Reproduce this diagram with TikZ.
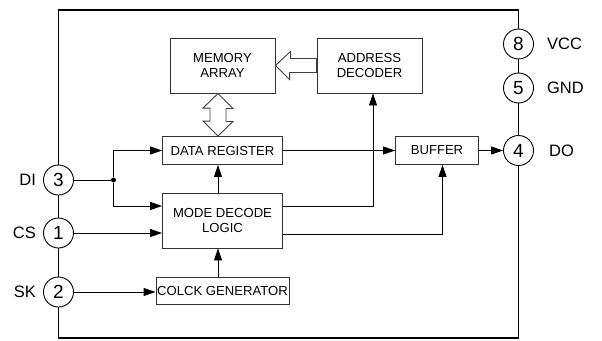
\documentclass[tikz,border=0pt]{standalone}
\usepackage{fontspec}
\setmainfont{Liberation Sans}
\usetikzlibrary{arrows.meta,positioning}

\begin{document}
\begin{tikzpicture}[x=1pt,y=-1pt,>={Triangle[length=12pt,width=8pt]},
  block/.style={draw=black!80,line width=0.9pt,inner sep=0pt,align=center,
    font=\fontsize{13.1}{15.5}\selectfont},
  pin/.style={circle,draw,fill=white,line width=0.9pt,minimum size=30pt,
    inner sep=0pt,font=\fontsize{19}{19}\selectfont},
  pinname/.style={inner sep=0pt,font=\fontsize{16.5}{16.5}\selectfont},
  line/.style={line width=0.9pt},
  frame/.style={line width=1.8pt},
  hollow/.style={draw=black!75,fill=white,line width=0.9pt,line join=miter}]
  \useasboundingbox[fill=white] (0,0) rectangle (602,340);

  % package outline
  \draw[frame] (58.5,10) rectangle (518.5,338);

  \node[block,minimum width=105pt,minimum height=55pt] (mem) at (222.5,65.5) {MEMORY\\ARRAY};
  \node[block,minimum width=105pt,minimum height=55pt] (addr) [right of=mem,node distance=147pt] {ADDRESS\\DECODER};
  \node[block,minimum width=120pt,minimum height=28pt] (datareg) [below of=mem,node distance=85pt] {DATA REGISTER};
  \node[block,minimum width=120pt,minimum height=55pt] (mode) [below of=datareg,node distance=70pt] {MODE DECODE\\LOGIC};
  \node[block,minimum width=133pt,minimum height=27pt] (clk) [below of=mode,node distance=70pt] {COLCK GENERATOR};
  \node[block,minimum width=83pt,minimum height=28pt] (buffer) [right of=datareg,node distance=214.5pt] {BUFFER};

  % pins
  \node[pin] (p3) at (58.5,180) {3};
  \node[pin] (p1) at (58.5,233) {1};
  \node[pin] (p2) at (58.5,292) {2};
  \node[pin] (p8) at (518.5,44) {8};
  \node[pin] (p5) at (518.5,88) {5};
  \node[pin] (p4) at (518.5,150.5) {4};
  \node[pinname,left=7pt of p3] (di) {DI};
  \node[pinname,left=7pt of p1] (cs) {CS};
  \node[pinname,left=7pt of p2] (sk) {SK};
  \node[pinname,right=13pt of p8] (vcc) {VCC};
  \node[pinname,right=13pt of p5] (gnd) {GND};
  \node[pinname,right=15pt of p4] (do) {DO};

  % wide arrows
  \draw[hollow] (mem.east) -- ++(15,-14) -- ++(0,7) -- ([yshift=7pt]addr.west)
    -- ([yshift=-7pt]addr.west) -- ++(-27,0) -- ++(0,7) -- cycle;
  \draw[hollow] ([xshift=-4.5pt]mem.south) -- ++(15,15) -- ++(-7,0) -- ++(0,13) -- ++(7,0)
    -- ([xshift=-4.5pt]datareg.north) -- ++(-15,-15) -- ++(7,0) -- ++(0,-13) -- ++(-7,0) -- cycle;

  % signals
  \node[circle,fill,inner sep=0pt,minimum size=5pt] (dot) at (113.5,180) {};
  \draw[line] (p3) -- (dot);
  \draw[line,->] (dot) |- (datareg);
  \draw[line,->] (dot) |- ([yshift=14.5pt]mode.west);
  \draw[line,->] (p1) -- (p1 -| mode.west);
  \draw[line,->] (p2) -- (p2 -| clk.west);
  \draw[line,->] ([xshift=-4.5pt]clk.north) -- ([xshift=-4.5pt]mode.south);
  \draw[line,->] ([xshift=-4.5pt]mode.north) -- ([xshift=-4.5pt]datareg.south);
  \draw[line,->] ([yshift=14.5pt]mode.east) -| ([xshift=3.5pt]addr.south);
  \draw[line,->] ([yshift=-13.5pt]mode.east) -| ([xshift=5.5pt]buffer.south);
  \draw[line,->] (datareg) -- (buffer);
  \draw[line,->] (buffer) -- (p4);
\end{tikzpicture}
\end{document}
